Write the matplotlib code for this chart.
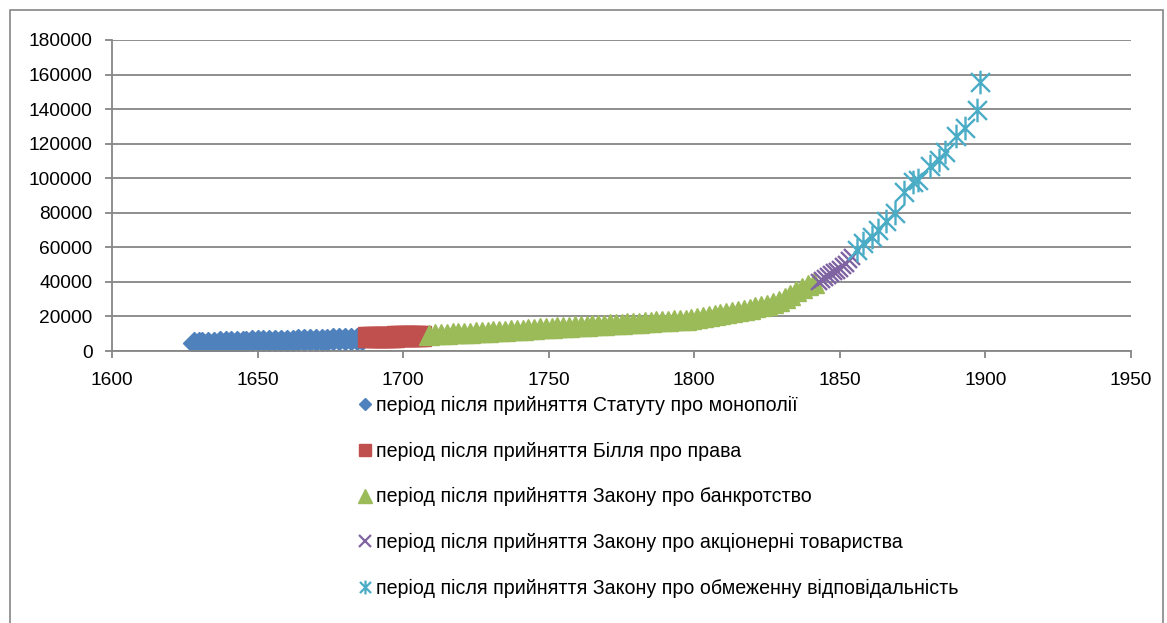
import matplotlib
matplotlib.use("Agg")
import matplotlib.pyplot as plt
from matplotlib.path import Path
from matplotlib.lines import Line2D
from matplotlib.patches import Rectangle

plt.rcParams['font.family'] = ['Liberation Sans', 'DejaVu Sans']

# ---- data ----
blue_years = [1628, 1630, 1631, 1633, 1635, 1637, 1639, 1641, 1643, 1645, 1646, 1648,
              1650, 1652, 1654, 1656, 1658, 1660, 1662, 1664, 1666, 1668, 1670, 1672,
              1674, 1676, 1678, 1680, 1682, 1684, 1686]
blue_vals = [4500, 4600, 4700, 4800, 4900, 5000, 5000, 5100, 5200, 5300, 5400, 5500,
             5600, 5700, 5600, 5700, 5800, 5900, 6000, 6100, 6200, 6300, 6400, 6500,
             6600, 6700, 6800, 6800, 6900, 7000, 7000]

red_years = [1688, 1689, 1690, 1691, 1692, 1693, 1694, 1695, 1696, 1697, 1698, 1699,
             1700, 1701, 1702, 1703, 1704, 1705, 1706]
red_vals = [8000, 8000, 8100, 8100, 8200, 8200, 8200, 8300, 8300, 8300, 8400, 8400,
            8400, 8500, 8500, 8500, 8600, 8600, 8600]

green_years = [1709, 1711, 1713, 1715, 1717, 1719, 1721, 1723, 1725, 1727, 1729, 1731,
               1733, 1735, 1737, 1739, 1741, 1743, 1745, 1747, 1749, 1751, 1753, 1755,
               1757, 1759, 1761, 1763, 1765, 1767, 1769, 1771, 1773, 1775, 1777, 1779,
               1781, 1783, 1785, 1787, 1789, 1791, 1793, 1795, 1797, 1799, 1801, 1803,
               1805, 1807, 1809, 1811, 1813, 1815, 1817, 1819, 1821, 1823, 1825, 1827,
               1829, 1831, 1833, 1835, 1837, 1839, 1841]
green_vals = [9300, 9700, 9900, 10100, 10300, 10400, 10600, 10700, 10900, 11000, 11200, 11300,
              11500, 11700, 11900, 12100, 12300, 12600, 12800, 13100, 13300, 13500, 13700, 13900,
              14100, 14300, 14500, 14700, 14900, 15100, 15300, 15500, 15600, 15800, 16000, 16200,
              16400, 16600, 16900, 17100, 17300, 17500, 17700, 17900, 18100, 18300, 18900, 19500,
              20300, 20800, 21300, 22000, 22600, 23200, 23800, 24500, 25200, 26000, 26900, 27900,
              29000, 30500, 32200, 34500, 36500, 38000, 39400]

purple_years = [1843, 1844, 1845, 1846, 1847, 1848, 1849, 1850, 1851, 1852, 1853, 1854]
purple_vals = [40000, 41000, 42500, 43500, 44500, 45500, 46500, 47500, 49000, 50500, 52500, 54500]

cyan_years = [1856, 1858, 1861, 1863, 1866, 1869, 1872, 1875, 1877, 1881, 1884, 1886,
              1890, 1893, 1897, 1898]
cyan_vals = [58600, 62400, 65900, 70000, 75000, 80000, 92300, 98000, 99100, 106800, 110800,
             115000, 124400, 129100, 139700, 155800]

labels = [
    "період після прийняття Статуту про монополії",
    "період після прийняття Білля про права",
    "період після прийняття Закону про банкротство",
    "період після прийняття Закону про акціонерні товариства",
    "період після прийняття Закону про обмеженну відповідальність",
]

x_ticks = [1600, 1650, 1700, 1750, 1800, 1850, 1900, 1950]
y_ticks = [0, 20000, 40000, 60000, 80000, 100000, 120000, 140000, 160000, 180000]

# ---- styles ----
c_blue, c_red, c_green, c_purple, c_cyan = '#4F81BD', '#C0504D', '#9BBB59', '#8064A2', '#4BACC6'
star = Path([(-1, -1), (1, 1), (-1, 1), (1, -1), (0, -1.25), (0, 1.25)],
            [Path.MOVETO, Path.LINETO] * 3)

W, H = 1167, 623
fig = plt.figure(figsize=(W / 100, H / 100), dpi=100)
ax = fig.add_axes([112 / W, 1 - 351 / H, (1131 - 112) / W, (351 - 40) / H])

ax.plot(blue_years, blue_vals, ls='none', marker='D', ms=11.5, color=c_blue, mec=c_blue)
ax.plot(red_years, red_vals, ls='none', marker='s', ms=14, color=c_red, mec=c_red)
ax.plot(green_years, green_vals, ls='none', marker='^', ms=15, color=c_green, mec=c_green)
ax.plot(purple_years, purple_vals, ls='none', marker='x', ms=11, mew=1.7, color=c_purple)
ax.plot(cyan_years, cyan_vals, ls='none', marker=star, ms=17, mew=1.7, color=c_cyan,
        mfc='none', mec=c_cyan)

ax.set_xlim(1600, 1950)
ax.set_ylim(0, 180000)
ax.set_xticks(x_ticks)
ax.set_yticks(y_ticks)
ax.set_xticklabels([str(v) for v in x_ticks])
ax.set_yticklabels([str(v) for v in y_ticks])
ax.grid(axis='y', color='#868686', lw=1.3)
ax.set_axisbelow(True)
for s in ['top', 'right']:
    ax.spines[s].set_visible(False)
for s in ['left', 'bottom']:
    ax.spines[s].set_color('#868686')
    ax.spines[s].set_linewidth(1.3)
ax.tick_params(axis='both', colors='#868686', length=5, width=1.3, labelcolor='black',
               labelsize=13.8)
ax.tick_params(axis='y', pad=9)
ax.tick_params(axis='x', pad=10)

handles = [
    Line2D([], [], ls='none', marker='D', ms=6.5, color=c_blue),
    Line2D([], [], ls='none', marker='s', ms=8.5, color=c_red),
    Line2D([], [], ls='none', marker='^', ms=9.5, color=c_green),
    Line2D([], [], ls='none', marker='x', ms=8, mew=1.6, color=c_purple),
    Line2D([], [], ls='none', marker=star, ms=10, mew=1.6, mfc='none', mec=c_cyan),
]
fig.legend(handles, labels, loc='upper left', bbox_to_anchor=(359 / W, 1 - 396 / H),
           frameon=False, fontsize=14.1, handlelength=0.6, handletextpad=0.25,
           labelspacing=1.36, borderaxespad=0, borderpad=0)

fig.patches.append(Rectangle((10 / W, -0.05), (1163 - 10) / W, 1.05 - 10 / H,
                             transform=fig.transFigure, fill=False, edgecolor='#868686',
                             lw=1.2))

fig.savefig('out.png', dpi=100)
